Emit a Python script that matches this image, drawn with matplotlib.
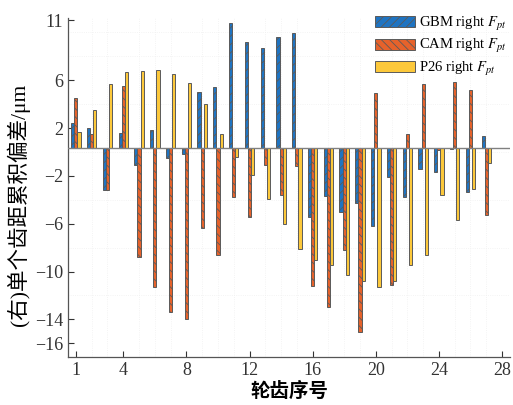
import numpy as np
import matplotlib
matplotlib.use('Agg')
import matplotlib.pyplot as plt
from matplotlib.ticker import MultipleLocator

plt.rcParams['font.family'] = ['Liberation Serif', 'Noto Sans CJK SC']
plt.rcParams['mathtext.fontset'] = 'stix'
plt.rcParams['hatch.linewidth'] = 0.6
plt.rcParams['hatch.color'] = '#202020'

# tooth number and bar tips (tick units)
teeth = np.arange(1, 28)
gbm = [2.38, 2.04, -3.19, 1.57, -1.08, 1.82, -0.52, -0.21, 4.99, 5.41, 10.82, 9.23, 8.67, 9.65,
       9.95, -5.48, -3.67, -5.06, -4.25, -6.20, -2.08, -3.75, -1.41, -1.69, 0.23, -3.31, 1.32]
cam = [4.55, 1.46, -3.19, 5.50, -8.82, -11.27, -13.36, -13.96, -6.34, -8.65, -3.78, -5.48, -1.13, -3.61,
       -1.20, -11.22, -13.0, -8.21, -15.03, 4.89, -11.16, 1.54, 5.67, 0.15, 5.89, 5.14, -5.31]
p26 = [1.65, 3.49, 5.67, 6.70, 6.78, 6.89, 6.50, 5.78, 4.05, 1.54, -0.46, -1.97, -3.91, -6.06,
       -8.10, -9.04, -9.49, -10.30, -10.77, -11.27, -10.77, -9.49, -8.65, -3.64, -5.70, -3.14, -0.96]
labels = ['GBM right $F_{pt}$', 'CAM right $F_{pt}$', 'P26 right $F_{pt}$']
yticks = [11, 6, 2, -2, -6, -10, -14, -16]
xticks = [1, 4, 8, 12, 16, 20, 24, 28]

base = 0.35
w = 0.2
fig = plt.figure(figsize=(5.13, 4.05), dpi=100)
ax = fig.add_axes([0.1326, 0.1185, 0.8614, 0.837])

series = [(gbm, -w, '#1f74c2', '////'),
          (cam, 0.0, '#e6622b', '\\\\\\\\'),
          (p26, w, '#fcc83b', None)]
for (vals, off, col, hat), lab in zip(series, labels):
    h = np.array(vals) - base
    ax.bar(teeth + off, h, width=w, bottom=base, color=col, hatch=hat,
           edgecolor='#5a5a5a', linewidth=0.7, label=lab, zorder=3)

ax.axhline(base, color='#808080', lw=1.0, zorder=4)

ax.set_xlim(0.5, 28.5)
ax.set_ylim(-17.15, 11.2)
ax.set_xticks(xticks)
ax.set_yticks(yticks)
ax.set_yticklabels([str(t).replace('-', '\u2212') for t in yticks])
ax.xaxis.set_minor_locator(MultipleLocator(1))
ax.yaxis.set_minor_locator(MultipleLocator(2))
ax.tick_params(which='major', direction='in', length=4, width=0.8, labelsize=13, colors='#333333')
ax.tick_params(which='minor', length=0)
ax.grid(True, which='minor', linestyle=':', color='#f0f0f0', lw=0.6, zorder=0)

for s in ['top', 'right']:
    ax.spines[s].set_visible(False)
for s in ['left', 'bottom']:
    ax.spines[s].set_color('#555555')
    ax.spines[s].set_linewidth(0.9)

ax.set_ylabel('(右)单个齿距累积偏差/μm', fontsize=15.5)
ax.yaxis.set_label_coords(-0.086, 0.45)
ax.set_xlabel('轮齿序号', fontsize=14, fontweight='bold', labelpad=2)

ax.legend(loc='upper right', bbox_to_anchor=(1.012, 1.035), frameon=False, fontsize=10.5,
          handlelength=2.75, handleheight=0.8, labelspacing=0.3, handletextpad=0.3,
          borderaxespad=0.2)

fig.savefig('out.png', dpi=100)
